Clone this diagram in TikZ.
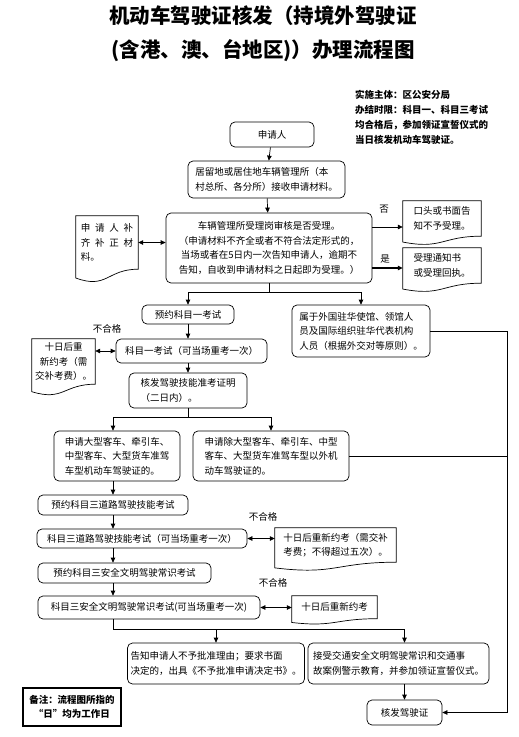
\documentclass[tikz,border=0pt]{standalone}
\usepackage{fontspec}
\setmainfont{Noto Sans CJK SC}
\XeTeXlinebreaklocale "zh"
\usetikzlibrary{arrows.meta, calc}
\newcommand{\bodyfont}{\fontsize{9.5}{14.5}\selectfont}
\tikzset{
  % Rounded process box
  stepbox/.style={
    rectangle, rounded corners=5pt,
    draw=black, fill=white, line width=0.7pt,
    font=\bodyfont, inner sep=3pt, align=left
  },
  % Document shape (upper part only, the wave is drawn by \docwave)
  docbox/.style={
    rectangle, draw=none,
    font=\bodyfont, inner sep=2pt, align=center
  },
  docline/.style={draw=black, line width=0.7pt},
  % Note box
  notebox/.style={
    rectangle, draw=black, line width=1.6pt,
    font=\bodyfont\bfseries, inner sep=3pt, align=center
  },
  % Texts
  titletext/.style={font=\fontsize{20.5}{24}\selectfont\bfseries},
  infotext/.style={font=\fontsize{9.5}{15}\selectfont\bfseries, align=left, inner sep=0pt},
  branchlabel/.style={font=\bodyfont, inner sep=1pt},
  % Arrows
  flowline/.style={line width=0.7pt},
  arr/.style={-{Triangle[length=5pt,width=4.5pt]}, line width=0.7pt},
  darr/.style={{Triangle[length=5pt,width=4.5pt]}-{Triangle[length=5pt,width=4.5pt]}, line width=0.7pt}
}
% wavy bottom below a docbox node
\newcommand{\docwave}[1]{%
  \draw[docline] let \p1=(#1.north west), \p2=(#1.south east), \n1={\y1-\y2} in
    ([yshift={-0.165*\n1}]#1.south west) -- (#1.north west) -- (#1.north east)
    -- (#1.south east)
    .. controls (#1.south) and ([yshift={-0.381*\n1}]#1.south) ..
    ([yshift={-0.165*\n1}]#1.south west) -- cycle;}

\begin{document}
\begin{tikzpicture}[x=1pt, y=-1pt]
  \useasboundingbox (0,0) rectangle (519,737);

  % ── Title and info ────────────────────────────────────────────────
  \node[titletext] (title1) at (263,16) {机动车驾驶证核发（持境外驾驶证};
  \node[titletext] (title2) at (263,51) {(含港、澳、台地区)）办理流程图};
  \node[infotext, anchor=north west] (info) at (355,90)
       {实施主体：区公安分局\\办结时限：科目一、科目三考试\\均合格后，参加领证宣誓仪式的\\当日核发机动车驾驶证。};

  % ── Application and review ────────────────────────────────────────
  \node[stepbox, align=center, minimum width=84pt, minimum height=25pt] (applicant) at (272,134.5) {申请人};
  \node[stepbox, minimum width=157pt, minimum height=37pt] (receive) at (266.5,179.5)
       {居留地或居住地车辆管理所（本\\村总所、各分所）接收申请材料。};
  \node[stepbox, align=center, minimum width=206pt, minimum height=70pt] (review) at (269,248)
       {车辆管理所受理岗审核是否受理。\\（申请材料不齐全或者不符合法定形式的，\\当场或者在5日内一次告知申请人，逾期不\\告知，自收到申请材料之日起即为受理。）};

  % Documents beside the review box
  \node[docbox, align=left, minimum width=62pt, minimum height=53pt] (supplement) at (107,242.5)
       {申\enspace 请\enspace 人\enspace 补\\齐\enspace 补\enspace 正\enspace 材\\料。};
  \node[docbox, minimum width=78pt, minimum height=35pt] (refuse) at (442,218.5) {口头或书面告\\知不予受理。};
  \node[docbox, align=left, minimum width=78pt, minimum height=35pt] (accept) at (442,265.5) {受理通知书\\或受理回执。};
  \docwave{supplement}
  \docwave{refuse}
  \docwave{accept}
  \node[branchlabel] (nolabel) at (384,209) {否};
  \node[branchlabel] (yeslabel) at (385,259) {是};

  % ── Subject one ───────────────────────────────────────────────────
  \node[stepbox, minimum width=92pt, minimum height=19pt] (book1) at (188,314.5) {预约科目一考试};
  \node[stepbox, minimum width=138pt, minimum height=52pt] (foreign) at (361,331)
       {属于外国驻华使馆、领馆人\\员及国际组织驻华代表机构\\人员（根据外交对等原则）。};
  \node[stepbox, align=center, minimum width=151pt, minimum height=24pt] (exam1) at (191.5,351) {科目一考试（可当场重考一次）};
  \node[docbox, minimum width=63pt, minimum height=45pt] (retry1) at (63.5,361.5) {十日后重\\新约考（需\\交补考费）。};
  \docwave{retry1}
  \node[branchlabel] (faillabel1) at (107,329) {不合格};
  \node[stepbox, minimum width=118pt, minimum height=35pt] (permit) at (188,390.5) {核发驾驶技能准考证明\\（二日内）。};

  % ── Vehicle classes ───────────────────────────────────────────────
  \node[stepbox, minimum width=126pt, minimum height=50pt] (large) at (117,456)
       {申请大型客车、牵引车、\\中型客车、大型货车准驾\\车型机动车驾驶证的。};
  \node[stepbox, minimum width=156pt, minimum height=50pt] (small) at (271,456)
       {申请除大型客车、牵引车、中型\\客车、大型货车准驾车型以外机\\动车驾驶证的。};

  % ── Subject three ─────────────────────────────────────────────────
  \node[stepbox, minimum width=150pt, minimum height=20pt] (book3) at (113,505) {预约科目三道路驾驶技能考试};
  \node[stepbox, minimum width=210pt, minimum height=19pt] (exam3) at (142,538.5) {科目三道路驾驶技能考试（可当场重考一次）};
  \node[docbox, minimum width=121pt, minimum height=34pt] (retry3) at (335.5,545) {十日后重新约考（需交补\\考费；不得超过五次）。};
  \docwave{retry3}
  \node[branchlabel] (faillabel3) at (263,517) {不合格};
  \node[stepbox, minimum width=173pt, minimum height=20pt] (book4) at (124.5,573) {预约科目三安全文明驾驶常识考试};
  \node[stepbox, minimum width=222pt, minimum height=23pt] (exam4) at (149,607.5) {科目三安全文明驾驶常识考试(可当场重考一次)};
  \node[docbox, minimum width=85pt, minimum height=22.5pt] (retry4) at (334.5,607.25) {十日后重新约考};
  \docwave{retry4}
  \node[branchlabel] (faillabel4) at (273,583) {不合格};

  % ── Outcomes ──────────────────────────────────────────────────────
  \node[stepbox, minimum width=172pt, minimum height=41pt] (deny) at (216,663.5)
       {告知申请人不予批准理由；要求书面\\决定的，出具《不予批准申请决定书》。};
  \node[stepbox, minimum width=181pt, minimum height=41pt] (educate) at (398.5,663.5)
       {接受交通安全文明驾驶常识和交通事\\故案例警示教育，并参加领证宣誓仪式。};
  \node[stepbox, align=center, minimum width=75pt, minimum height=25pt] (license) at (404.5,712.5) {核发驾驶证};
  \node[notebox, minimum width=98pt, minimum height=38pt] (note) at (72,707) {备注：流程图所指的\\“日”均为工作日};

  % ── Connectors ────────────────────────────────────────────────────
  \coordinate (j1) at (269,292);
  \coordinate (j2) at (188,417);
  \coordinate (j4) at (113,629);
  \coordinate (rail) at (507,331);

  \draw[arr] (applicant) -- (receive);
  \draw[arr] (receive) -- (review);
  \draw[darr] (supplement.east) -- (supplement.east -| review.west);
  \draw[arr] ([yshift=21pt]review.east) -- ([yshift=21pt]review.east -| refuse.west);
  \draw[arr, line width=1.2pt] ([yshift=-20pt]review.east) -- ([yshift=-20pt]review.east -| accept.west);

  \draw[flowline] (review.south) -- (j1);
  \draw[arr] (j1) -| (book1.north);
  \draw[arr] (j1) -| (foreign.north);
  \draw[arr] (book1.south) -- (book1.south |- exam1.north);
  \draw[darr] (exam1.west) -- (exam1.west -| retry1.east);
  \draw[arr] (permit.north |- exam1.south) -- (permit.north);

  \draw[flowline] (permit.south) -- (j2);
  \draw[arr] (j2) -| (book3.north |- large.north);
  \draw[arr] (j2) -| (small.north);
  \draw[flowline] (small.east) -- (small.east -| rail);
  \draw[arr] (foreign.east) -- (rail) |- (license.east);

  \draw[arr] (book3.north |- large.south) -- (book3.north);
  \draw[arr] (book3.south) -- (book3.south |- exam3.north);
  \draw[darr] (exam3.east) -- (exam3.east -| retry3.west);
  \draw[arr] (book3.south |- exam3.south) -- (book3.south |- book4.north);
  \draw[arr] (book3.south |- book4.south) -- (book3.south |- exam4.north);
  \draw[darr] (exam4.east) -- (exam4.east -| retry4.west);

  \draw[flowline] (j4 |- exam4.south) -- (j4);
  \draw[arr] (j4) -| (deny.north);
  \draw[arr] (j4) -| (license.north |- educate.north);
  \draw[arr] (license.north |- educate.south) -- (license.north);

\end{tikzpicture}
\end{document}
